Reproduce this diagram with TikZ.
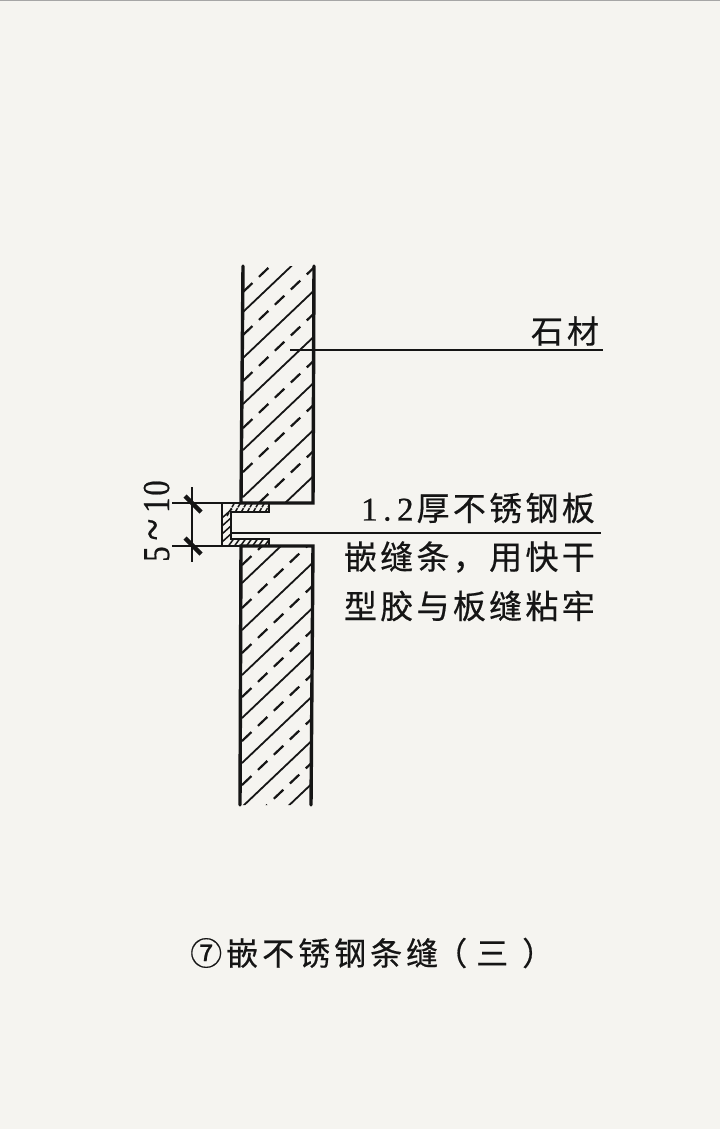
\documentclass[tikz,border=0pt]{standalone}
\usepackage{fontspec}
\newfontfamily\cjkA[LetterSpace=10,FakeBold=0.5]{Noto Sans CJK SC}
\newfontfamily\cjkB[LetterSpace=12.5,FakeBold=0.5]{Noto Sans CJK SC}
\newfontfamily\latA[LetterSpace=17,FakeBold=0.8]{Liberation Serif}
\newfontfamily\latB[FakeStretch=0.8,FakeBold=0.6]{Liberation Serif}
\definecolor{paper}{HTML}{F5F4F0}
\definecolor{ink}{HTML}{151515}
\tikzset{
  wall/.style={ink,line width=3.4pt,line cap=round},
  hatch/.style={ink,line width=1.8pt},
  dash hatch/.style={ink,line width=2.2pt,dash pattern=on 13pt off 9pt},
  thin line/.style={ink,line width=2pt},
  label/.style={inner sep=0pt,text=ink,anchor=center}
}
\begin{document}
\begin{tikzpicture}[x=1pt,y=-1pt]
\useasboundingbox (0,0) rectangle (720,1129);
\fill[paper] (0,0) rectangle (720,1129);
\draw[black!35,line width=1pt] (0,0.5) -- (720,0.5);
% upper stone
\begin{scope}
\clip (243,266) -- (314,266) -- (313,503) -- (241,503) -- cycle;
\foreach \y in {312,358,404,450,497,543}
  \draw[hatch] (243,\y) -- ++(80,-76);
\foreach \y in {292,335,381,428,472,518}
  \draw[dash hatch] (243,\y) -- ++(80,-76);
\end{scope}
% lower stone
\begin{scope}
\clip (241,546) -- (313,546) -- (311,805) -- (240,805) -- cycle;
\foreach \y in {583,630,675,718,763,807,850}
  \draw[hatch] (242,\y) -- ++(80,-76);
\foreach \y in {565,608,653,697,741,785,829}
  \draw[dash hatch] (242,\y) -- ++(80,-76);
\end{scope}
\draw[wall] (243,266) -- (241,503) -- (313,503) -- (314,266);
\draw[wall] (240,805) -- (241,546) -- (313,546) -- (311,805);
% stainless channel
\begin{scope}
\clip (222,503) -- (269,503) -- (269,512) -- (231,512) -- (231,539) -- (269,539) -- (269,546) -- (222,546) -- cycle;
\foreach \i in {0,...,7}
  \draw[ink,line width=1.5pt,dash pattern=on 4pt off 1pt] (227+\i*6,516) -- ++(8,-14);
\foreach \i in {0,...,7}
  \draw[ink,line width=1.5pt] (227+\i*6,548) -- ++(8,-11);
\foreach \y in {518,526,534,542}
  \draw[ink,line width=1.5pt] (222,\y) -- ++(10,-9);
\end{scope}
\draw[ink,line width=2.8pt,line join=miter]
  (222,503) -- (269,503) -- (269,512) -- (231,512) -- (231,539) -- (269,539) -- (269,546) -- (222,546) -- cycle;
% leaders
\coordinate (stoneL) at (290,350);
\coordinate (stoneR) at (603,350);
\coordinate (stripL) at (231,533);
\coordinate (stripR) at (601,533);
\draw[thin line] (stoneL) -- (stoneR);
\draw[thin line] (stripL) -- (stripR);
% dimension
\coordinate (dimT) at (192,487);
\coordinate (dimB) at (192,562);
\coordinate (extTL) at (172,503);
\coordinate (extTR) at (222,503);
\coordinate (extBL) at (172,546);
\coordinate (extBR) at (222,546);
\draw[ink,line width=1.5pt] (dimT) -- (dimB);
\draw[ink,line width=1.5pt] (extTL) -- (extTR);
\draw[ink,line width=1.5pt] (extBL) -- (extBR);
\draw[ink,line width=4.5pt] (185,496) -- (201,512);
\draw[ink,line width=4.5pt] (185,538) -- (201,554);
\node[label,rotate=90,anchor=base] (dimtext) at (169,521) {\fontsize{38}{38}\latB 5\hspace{6pt}{\fontsize{50}{50}\selectfont\char`\~}\hspace{6pt}1\hspace{2pt}0};
% texts
\node[label] (stone) at (565,331) {\fontsize{32}{32}\cjkA 石\hspace{4pt}材};
\node[label,anchor=east] (l1) at (595,508) {\fontsize{33}{33}\latA 1.2\hspace{3pt}\cjkA 厚不锈钢板};
\node[label,anchor=east] (l2) at (595,557) {\fontsize{33}{33}\cjkA 嵌缝条，用快干};
\node[label,anchor=east] (l3) at (595,606) {\fontsize{33}{33}\cjkA 型胶与板缝粘牢};
\node[label,anchor=west] (cap) at (190,953) {\fontsize{32}{32}\cjkB ⑦嵌不锈钢条缝\hspace{-3pt}（\hspace{9pt}三\hspace{14pt}）};
\end{tikzpicture}
\end{document}
